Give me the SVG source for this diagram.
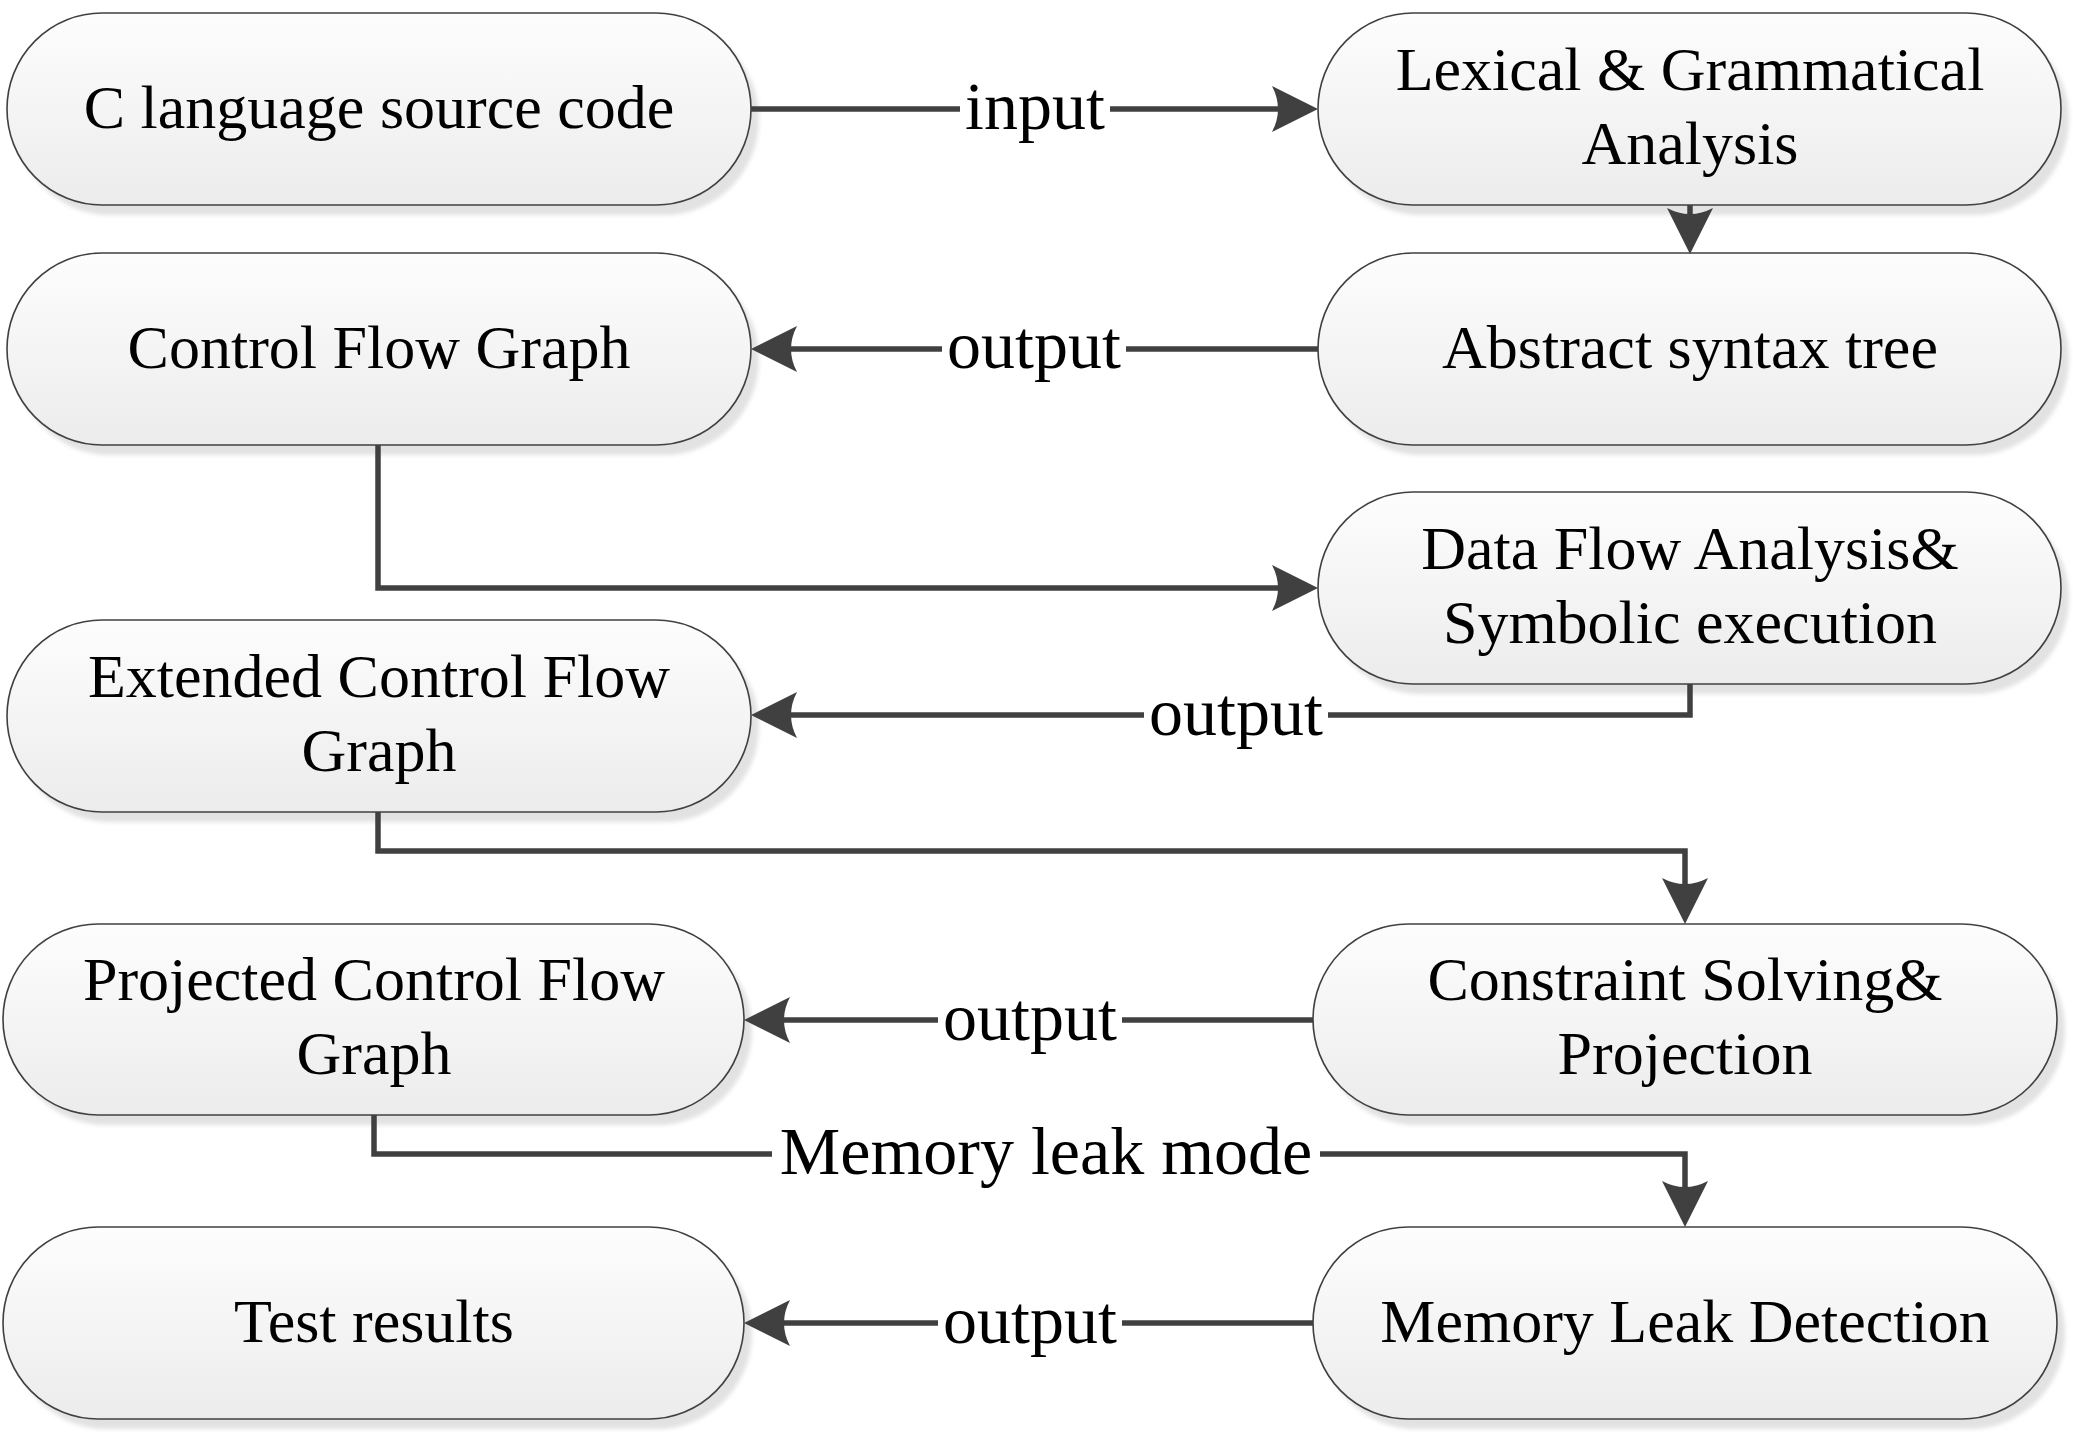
<svg xmlns="http://www.w3.org/2000/svg" width="2073" height="1442" viewBox="0 0 2073 1442">
<defs>
<linearGradient id="g" x1="0" y1="0" x2="0" y2="1">
<stop offset="0" stop-color="#fdfdfd"/>
<stop offset="1" stop-color="#ececec"/>
</linearGradient>
<filter id="blur" x="-5%" y="-5%" width="110%" height="110%"><feGaussianBlur stdDeviation="2"/></filter>
<marker id="arr" viewBox="0 0 46 46" refX="31" refY="23" markerWidth="46" markerHeight="46" markerUnits="userSpaceOnUse" orient="auto">
<path d="M46,23 L0,0 Q12,23 0,46 Z" fill="#404040"/>
</marker>
</defs>
<style>
.sh{fill:#e2e2e2;filter:url(#blur)}
.bx{fill:url(#g);stroke:#404040;stroke-width:1.6}
.t{font-family:"Liberation Serif","Times New Roman",serif;font-size:62px;fill:#000;text-anchor:middle}
.lb{font-family:"Liberation Serif","Times New Roman",serif;font-size:68px;fill:#000;text-anchor:middle}
.c{fill:none;stroke:#404040;stroke-width:5.5;stroke-linejoin:miter}
.bg{fill:#fff}
</style>
<rect width="2073" height="1442" fill="#fff"/>

<g id="n1"><rect class="sh" x="15" y="23" width="744" height="192" rx="95" ry="96"/><rect class="bx" x="7" y="13" width="744" height="192" rx="95" ry="96"/><text class="t" x="379" y="128">C language source code</text></g>
<g id="n2"><rect class="sh" x="1326" y="23" width="743" height="192" rx="95" ry="96"/><rect class="bx" x="1318" y="13" width="743" height="192" rx="95" ry="96"/><text class="t" x="1690" y="90">Lexical &amp; Grammatical</text><text class="t" x="1690" y="164">Analysis</text></g>
<g id="n3"><rect class="sh" x="15" y="263" width="744" height="192" rx="95" ry="96"/><rect class="bx" x="7" y="253" width="744" height="192" rx="95" ry="96"/><text class="t" x="379" y="368">Control Flow Graph</text></g>
<g id="n4"><rect class="sh" x="1326" y="263" width="743" height="192" rx="95" ry="96"/><rect class="bx" x="1318" y="253" width="743" height="192" rx="95" ry="96"/><text class="t" x="1690" y="368">Abstract syntax tree</text></g>
<g id="n5"><rect class="sh" x="1326" y="502" width="743" height="192" rx="95" ry="96"/><rect class="bx" x="1318" y="492" width="743" height="192" rx="95" ry="96"/><text class="t" x="1690" y="569">Data Flow Analysis&amp;</text><text class="t" x="1690" y="643">Symbolic execution</text></g>
<g id="n6"><rect class="sh" x="15" y="630" width="744" height="192" rx="95" ry="96"/><rect class="bx" x="7" y="620" width="744" height="192" rx="95" ry="96"/><text class="t" x="379" y="697">Extended Control Flow</text><text class="t" x="379" y="771">Graph</text></g>
<g id="n7"><rect class="sh" x="11" y="934" width="741" height="191" rx="95" ry="95.5"/><rect class="bx" x="3" y="924" width="741" height="191" rx="95" ry="95.5"/><text class="t" x="374" y="1000">Projected Control Flow</text><text class="t" x="374" y="1074">Graph</text></g>
<g id="n8"><rect class="sh" x="1321" y="934" width="744" height="191" rx="95" ry="95.5"/><rect class="bx" x="1313" y="924" width="744" height="191" rx="95" ry="95.5"/><text class="t" x="1685" y="1000">Constraint Solving&amp;</text><text class="t" x="1685" y="1074">Projection</text></g>
<g id="n9"><rect class="sh" x="11" y="1237" width="741" height="192" rx="95" ry="96"/><rect class="bx" x="3" y="1227" width="741" height="192" rx="95" ry="96"/><text class="t" x="374" y="1342">Test results</text></g>
<g id="n10"><rect class="sh" x="1321" y="1237" width="744" height="192" rx="95" ry="96"/><rect class="bx" x="1313" y="1227" width="744" height="192" rx="95" ry="96"/><text class="t" x="1685" y="1342">Memory Leak Detection</text></g>

<g id="connectors">
<path class="c" d="M751,109 H1303" marker-end="url(#arr)"/>
<path class="c" d="M1690,205 V239" marker-end="url(#arr)"/>
<path class="c" d="M1318,349 H766" marker-end="url(#arr)"/>
<path class="c" d="M378,445 V588 H1303" marker-end="url(#arr)"/>
<path class="c" d="M1690,684 V715 H766" marker-end="url(#arr)"/>
<path class="c" d="M378,812 V851 H1685 V909" marker-end="url(#arr)"/>
<path class="c" d="M1313,1020 H759" marker-end="url(#arr)"/>
<path class="c" d="M374,1115 V1154 H1685 V1212" marker-end="url(#arr)"/>
<path class="c" d="M1313,1323 H759" marker-end="url(#arr)"/>

<rect class="bg" x="960" y="95" width="150" height="28"/>
<text class="lb" x="1035" y="129">input</text>
<rect class="bg" x="942" y="335" width="184" height="28"/>
<text class="lb" x="1034" y="368">output</text>
<rect class="bg" x="1144" y="701" width="184" height="28"/>
<text class="lb" x="1236" y="735">output</text>
<rect class="bg" x="938" y="1006" width="184" height="28"/>
<text class="lb" x="1030" y="1040">output</text>
<rect class="bg" x="772" y="1140" width="548" height="28"/>
<text class="lb" x="1046" y="1174">Memory leak mode</text>
<rect class="bg" x="938" y="1309" width="184" height="28"/>
<text class="lb" x="1030" y="1343">output</text>
</g>
</svg>
